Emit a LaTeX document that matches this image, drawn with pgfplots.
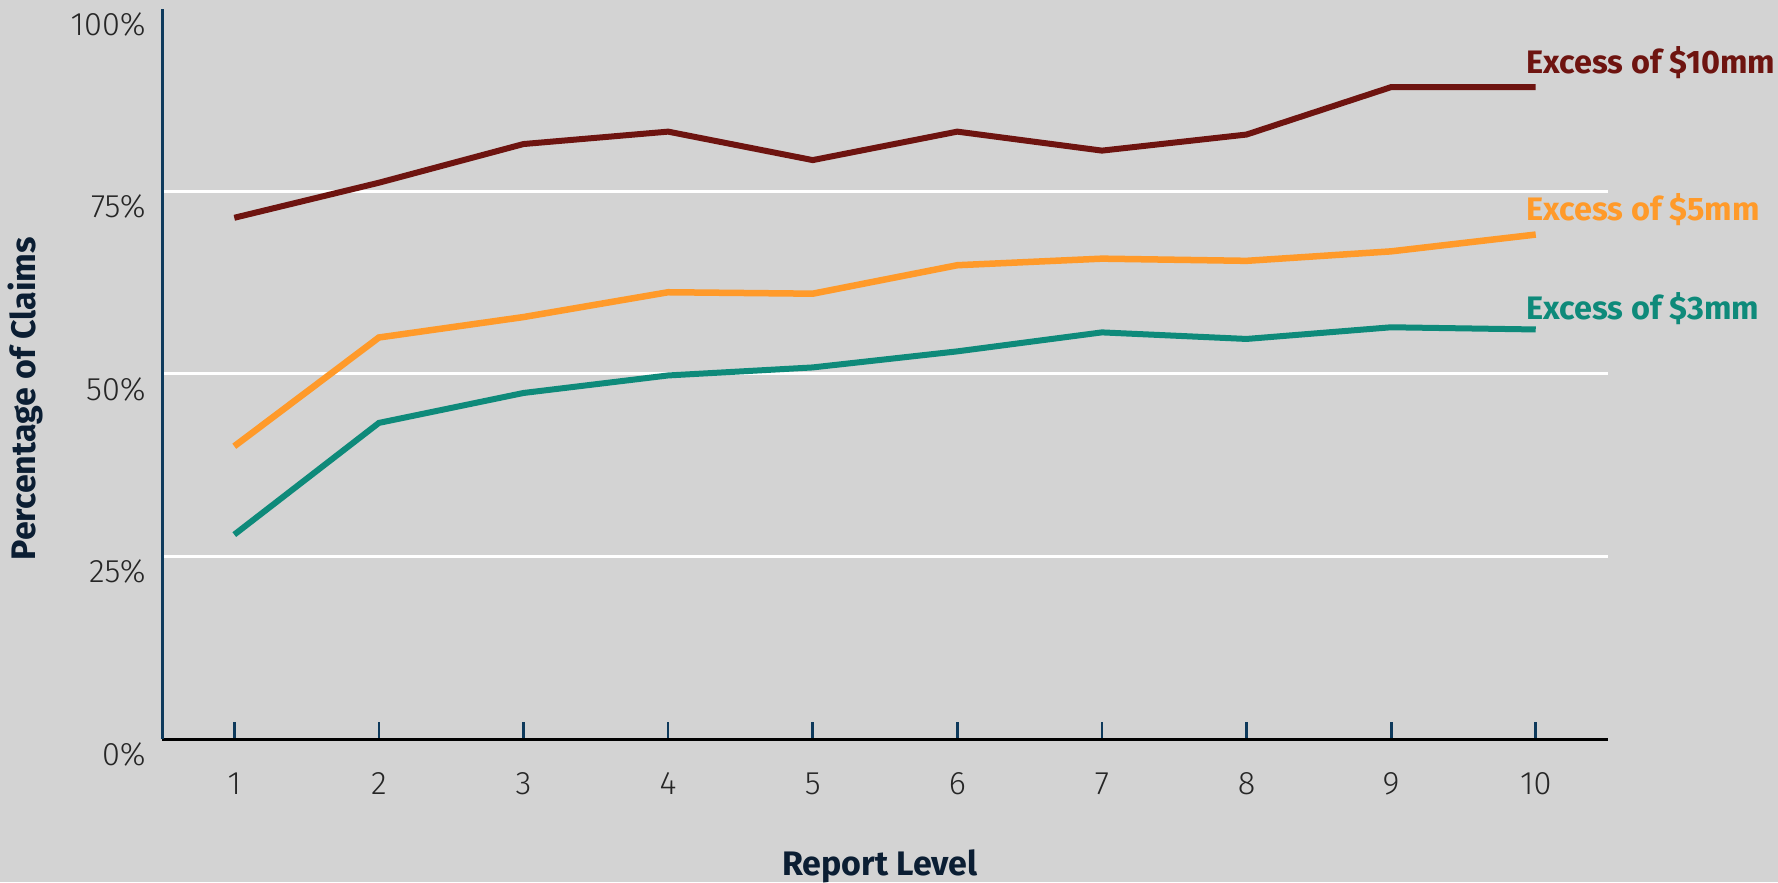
\documentclass[border=0pt]{standalone}
\usepackage{fontspec}
\setmainfont{Fira Sans}
\newfontfamily\lightfont{Fira Sans Light}
\usepackage{pgfplots}
\pgfplotsset{compat=1.18}
\definecolor{bg}{HTML}{D3D3D3}
\definecolor{navy}{HTML}{0E3A5C}
\definecolor{darkred}{HTML}{6E1410}
\definecolor{orng}{HTML}{FF9A2A}
\definecolor{teal}{HTML}{0E8A7A}
\definecolor{lbl}{HTML}{0B1E33}
\begin{document}
\begin{tikzpicture}[x=0.4pt,y=0.4pt]
\path[use as bounding box, fill=bg] (0,0) rectangle (1778,882);
\begin{axis}[
  at={(162*0.4pt,143*0.4pt)}, anchor=south west,
  scale only axis, width=578.4pt, height=292pt,
  xmin=0.5, xmax=10.5, ymin=0, ymax=100,
  axis line style={line width=1.2pt},
  axis x line*=bottom, axis y line*=left,
  x axis line style={black,-}, y axis line style={navy,-},
  xtick={1,...,10}, ytick={0,25,50,75},
  extra y ticks={100}, extra y tick style={grid=none},
  xtick style={navy, line width=1.1pt}, major tick length=7pt,
  xtick align=inside, ytick style={draw=none},
  ymajorgrids, grid style={white, line width=1.2pt},
  yticklabel={\lightfont\pgfmathprintnumber{\tick}\%},
  xticklabel={\lightfont\pgfmathprintnumber{\tick}},
  /pgf/number format/assume math mode=true,
  yticklabel style={font=\fontsize{13}{15}\selectfont, text=black!85, xshift=-3pt, yshift=-6pt},
  xticklabel style={font=\fontsize{13}{15}\selectfont, text=black!85, yshift=-10pt},
  xlabel={Report Level}, ylabel={Percentage of Claims},
  xlabel style={font=\bfseries\fontsize{13.6}{15}\selectfont, text=lbl, at={(axis description cs:0.4965,-0.175)}, anchor=center},
  ylabel style={font=\bfseries\fontsize{13.6}{15}\selectfont, text=lbl, at={(axis description cs:-0.0947,0.466)}, anchor=center},
  clip=false,
]
\addplot[darkred, line width=2.4pt] coordinates {(1,71.4)(2,76.2)(3,81.5)(4,83.2)(5,79.3)(6,83.2)(7,80.6)(8,82.8)(9,89.3)(10,89.3)};
\addplot[orng, line width=2.6pt] coordinates {(1,40.1)(2,55.0)(3,57.8)(4,61.2)(5,61.0)(6,64.9)(7,65.8)(8,65.5)(9,66.8)(10,69.1)};
\addplot[teal, line width=2.4pt] coordinates {(1,28.0)(2,43.3)(3,47.4)(4,49.8)(5,50.9)(6,53.1)(7,55.7)(8,54.8)(9,56.4)(10,56.1)};
\node[anchor=west, text=darkred, font=\bfseries\fontsize{13}{15}\selectfont, inner sep=0pt] at (axis cs:9.93,92.7) {Excess of \$10mm};
\node[anchor=west, text=orng, font=\bfseries\fontsize{13}{15}\selectfont, inner sep=0pt] at (axis cs:9.93,72.5) {Excess of \$5mm};
\node[anchor=west, text=teal, font=\bfseries\fontsize{13}{15}\selectfont, inner sep=0pt] at (axis cs:9.93,59.0) {Excess of \$3mm};
\end{axis}
\end{tikzpicture}
\end{document}
